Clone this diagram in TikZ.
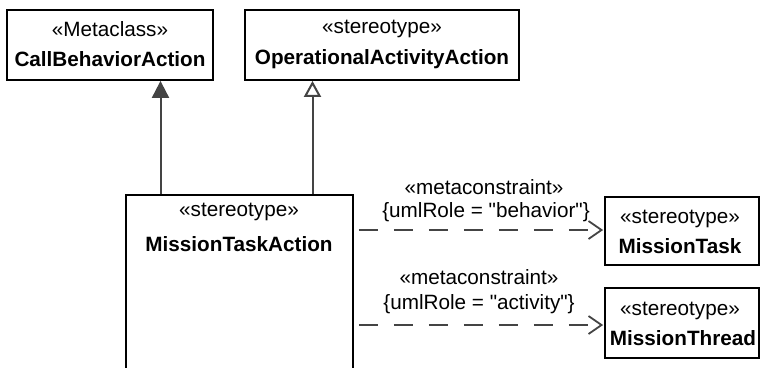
\documentclass[tikz,border=0pt]{standalone}
\usepackage{fontspec}
\setmainfont{Liberation Sans}[Ligatures=TeXOff]
\usetikzlibrary{arrows.meta}
\definecolor{linegray}{HTML}{444444}
\tikzset{
  umlbox/.style={draw=black, line width=1.8pt, fill=white, inner sep=0pt},
  txt/.style={inner sep=0pt, font=\fontsize{20.7}{24}\selectfont, anchor=center},
  btxt/.style={txt, font=\fontsize{20.7}{24}\selectfont\bfseries},
  gen/.style={draw=linegray, line width=2pt},
  dep/.style={draw=linegray, line width=2pt, dash pattern=on 19pt off 16pt,
    -{Straight Barb[length=13pt,width=18pt,line width=1.8pt]}}
}
\begin{document}
\begin{tikzpicture}[x=1pt,y=-1pt]
\useasboundingbox (0,0) rectangle (760,367);
\clip (0,0) rectangle (760,367);
% boxes
\node[umlbox, minimum width=206pt, minimum height=70pt] (cba) at (110,45) {};
\node[umlbox, minimum width=274pt, minimum height=70pt] (oaa) at (382,45) {};
\node[umlbox, minimum width=227pt, minimum height=190pt] (mta) at (239.5,290) {};
\node[umlbox, minimum width=154pt, minimum height=68pt] (mt) at (682,231) {};
\node[umlbox, minimum width=154pt, minimum height=70pt] (mth) at (682,323) {};
% texts
\node[txt] (cbas) at (110,29) {«Metaclass»};
\node[btxt] (cban) at (110,59) {CallBehaviorAction};
\node[txt] (oaas) at (382,29) {«stereotype»};
\node[btxt] (oaan) at (382,59) {OperationalActivityAction};
\node[txt] (mtas) at (239,212) {«stereotype»};
\node[btxt] (mtan) at (239,244) {MissionTaskAction};
\node[txt] (mts) at (680,219) {«stereotype»};
\node[btxt] (mtn) at (680,246) {MissionTask};
\node[txt] (mths) at (680,311) {«stereotype»};
\node[btxt] (mthn) at (683,338) {MissionThread};
% connector anchors
\coordinate (g1) at (160.5,0);
\coordinate (g2) at (312.5,0);
\coordinate (d1) at (0,230);
\coordinate (d2) at (0,325);
% generalizations
\draw[gen, -{Triangle[length=17pt,width=17pt]}] (mta.north -| g1) -- (cba.south -| g1);
\draw[gen, -{Triangle[open,length=16pt,width=17pt,fill=white]}] (mta.north -| g2) -- (oaa.south -| g2);
% dependencies
\draw[dep] ([xshift=5pt]mta.east |- d1) -- ([xshift=-1pt]mt.west |- d1);
\draw[dep] ([xshift=5pt]mta.east |- d2) -- ([xshift=-1pt]mth.west |- d2);
% labels
\node[txt] (l1a) at (484,187) {«metaconstraint»};
\node[txt] (l1b) at (486,212) {\{umlRole = "behavior"\}};
\node[txt] (l2a) at (479,277) {«metaconstraint»};
\node[txt] (l2b) at (479,304) {\{umlRole = "activity"\}};
\end{tikzpicture}
\end{document}
